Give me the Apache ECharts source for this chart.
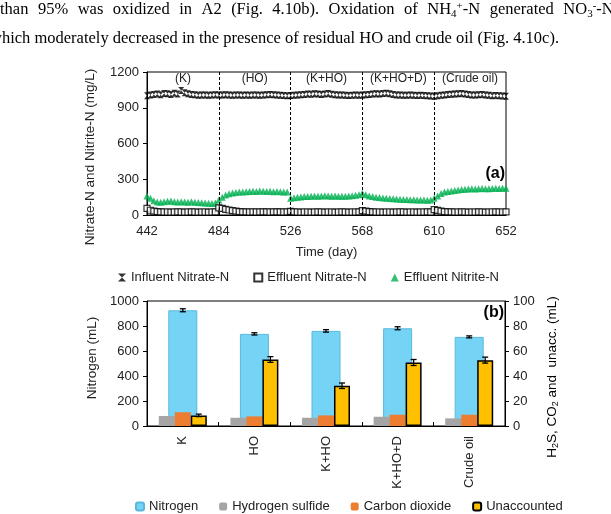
<!DOCTYPE html>
<html>
<head>
<meta charset="utf-8">
<script src="https://cdn.jsdelivr.net/npm/echarts@6/dist/echarts.min.js"></script>
<style>
html, body { margin: 0; padding: 0; background: #fff; }
#main { width: 611px; height: 514px; }
</style>
</head>
<body>
<div id="main"></div>
<script>
// (a) time series, sampled every 2 days
var days = [442, 444, 446, 448, 450, 452, 454, 456, 458, 460, 462, 464, 466, 468, 470, 472, 474, 476, 478, 480, 482,
    484, 486, 488, 490, 492, 494, 496, 498, 500, 502, 504, 506, 508, 510, 512, 514, 516, 518, 520, 522, 524,
    526, 528, 530, 532, 534, 536, 538, 540, 542, 544, 546, 548, 550, 552, 554, 556, 558, 560, 562, 564, 566,
    568, 570, 572, 574, 576, 578, 580, 582, 584, 586, 588, 590, 592, 594, 596, 598, 600, 602, 604, 606, 608,
    610, 612, 614, 616, 618, 620, 622, 624, 626, 628, 630, 632, 634, 636, 638, 640, 642, 644, 646, 648, 650, 652];
var influentNitrate = [1000, 1008, 1012, 1015, 1010, 1020, 1018, 1012, 1022, 1015, 1045, 1025, 1018, 1012, 1010, 1005, 1008, 1006, 1004, 1008, 1010,
    1008, 1006, 1010, 1008, 1005, 1006, 1008, 1004, 1006, 1005, 1007, 1006, 1004, 1008, 1010, 1012, 1010, 1006, 1004, 1002, 1000,
    1002, 1004, 1008, 1010, 1012, 1015, 1014, 1018, 1015, 1012, 1016, 1020, 1014, 1010, 1008, 1006, 1004, 1002, 1004, 1006, 1005,
    1008, 1010, 1012, 1015, 1018, 1016, 1020, 1022, 1018, 1012, 1008, 1006, 1005, 1004, 1006, 1005, 1003, 1004, 1002, 1000, 998,
    996, 1000, 1004, 1008, 1012, 1014, 1016, 1018, 1020, 1016, 1012, 1008, 1006, 1010, 1012, 1008, 1004, 1000, 1002, 1000, 998, 996];
var effluentNitrate = [55, 40, 32, 28, 26, 25, 25, 24, 25, 26, 25, 24, 25, 26, 25, 24, 25, 25, 24, 25, 26,
    60, 55, 48, 42, 36, 32, 29, 27, 26, 25, 26, 25, 26, 27, 26, 25, 26, 27, 26, 25, 26,
    30, 26, 25, 24, 25, 25, 24, 25, 26, 25, 24, 25, 25, 24, 25, 26, 25, 24, 25, 25, 26,
    36, 32, 28, 26, 25, 25, 24, 25, 25, 24, 25, 26, 25, 24, 25, 25, 24, 25, 25, 26, 25,
    45, 38, 32, 28, 27, 26, 25, 25, 26, 25, 24, 25, 25, 26, 25, 24, 25, 25, 26, 25, 25, 26];
var effluentNitrite = [160, 140, 120, 110, 108, 112, 115, 118, 112, 110, 112, 110, 108, 112, 106, 104, 102, 100, 98, 96, 100,
    125, 150, 168, 178, 185, 188, 192, 194, 196, 198, 200, 198, 202, 200, 198, 200, 196, 198, 195, 194, 192,
    140, 145, 150, 152, 155, 156, 158, 160, 158, 160, 162, 160, 158, 160, 158, 157, 158, 160, 162, 165, 170,
    182, 170, 160, 155, 150, 146, 142, 140, 138, 136, 134, 132, 130, 130, 128, 127, 126, 126, 125, 124, 126,
    140, 160, 180, 192, 198, 202, 206, 210, 214, 216, 218, 220, 218, 220, 222, 220, 221, 222, 224, 222, 224, 225];
var dayTicks = [442, 484, 526, 568, 610, 652];
var phaseNames = ['(K)', '(HO)', '(K+HO)', '(K+HO+D)', '(Crude oil)'];
var phaseStart = [442, 484, 526, 568, 610];
var phaseEnd = [484, 526, 568, 610, 652];

// (b) gas volumes
var treatments = ['K', 'HO', 'K+HO', 'K+HO+D', 'Crude oil'];
var nitrogen = [926, 737, 761, 782, 713];
var nitrogenErr = [12, 9, 10, 12, 8];
var hydrogenSulfide = [8, 6.6, 6.6, 7.4, 6.1];
var carbonDioxide = [11, 7.7, 8.5, 9, 9];
var unaccounted = [8.5, 53.2, 32.2, 50.8, 52.7];
var unaccountedErr = [1, 2.3, 2.2, 2.4, 2.4];

var FONT = 'Liberation Sans, Arial, sans-serif';
var SERIF = 'Liberation Serif, Times New Roman, serif';
var chart = echarts.init(document.getElementById('main'), null, { renderer: 'canvas' });

function pairs(ys) {
    return days.map(function (d, i) { return [d, ys[i]]; });
}

function errorBars(offset) {
    return function (params, api) {
        var x = api.coord([api.value(0), 0])[0] + offset;
        var hi = api.coord([api.value(0), api.value(1) + api.value(2)])[1];
        var lo = api.coord([api.value(0), api.value(1) - api.value(2)])[1];
        var st = { stroke: '#000', lineWidth: 1.3 };
        return {
            type: 'group',
            children: [
                { type: 'line', shape: { x1: x, y1: hi, x2: x, y2: lo }, style: st },
                { type: 'line', shape: { x1: x - 3, y1: hi, x2: x + 3, y2: hi }, style: st },
                { type: 'line', shape: { x1: x - 3, y1: lo, x2: x + 3, y2: lo }, style: st }
            ]
        };
    };
}

function plain(v) { return String(v); }

var axisText = { color: '#222', fontSize: 13, fontFamily: FONT, formatter: plain };
var bodyRich = {
    n: { fontSize: 16.5, fontFamily: SERIF, color: '#111' },
    g: { fontSize: 16.5, fontFamily: SERIF, width: 9.5 },
    sub: { fontSize: 11, fontFamily: SERIF, color: '#111', padding: [8, 0, 0, 0] },
    sup: { fontSize: 11, fontFamily: SERIF, color: '#111', padding: [0, 0, 8, 0] }
};
var line1 = ['than', '95%', 'was', 'oxidized', 'in', 'A2', '(Fig.', '4.10b).', 'Oxidation', 'of',
    'NH}{sub|4}{sup|+}{n|-N', 'generated', 'NO}{sub|3}{sup|-}{n|-N'];

var option = {
    animation: false,
    textStyle: { fontFamily: FONT },
    grid: [
        { left: 147, top: 72, width: 359, height: 143, show: true, borderColor: '#000', borderWidth: 1 },
        { left: 147, top: 301, width: 358, height: 125, show: true, borderColor: '#000', borderWidth: 1 }
    ],
    legend: [
        {
            data: ['Influent Nitrate-N', 'Effluent Nitrate-N', 'Effluent Nitrite-N'],
            top: 266, left: 113, itemGap: 24, itemWidth: 8, itemHeight: 8,
            textStyle: { fontSize: 13, color: '#222', fontFamily: FONT }
        },
        {
            data: ['Nitrogen', 'Hydrogen sulfide', 'Carbon dioxide', 'Unaccounted'],
            top: 495, left: 130, itemGap: 21, itemWidth: 8, itemHeight: 8,
            textStyle: { fontSize: 13, color: '#222', fontFamily: FONT }
        }
    ],
    xAxis: [
        {
            type: 'value', gridIndex: 0, min: 442, max: 652,
            name: 'Time (day)', nameLocation: 'middle', nameGap: 31,
            nameTextStyle: { fontSize: 13, color: '#222', fontFamily: FONT },
            axisLine: { lineStyle: { color: '#000' } },
            axisTick: { show: false },
            axisLabel: Object.assign({}, axisText, { customValues: dayTicks, margin: 10 }),
            splitLine: { show: false }
        },
        {
            type: 'category', gridIndex: 1, data: treatments,
            axisLine: { lineStyle: { color: '#000' } },
            axisTick: { show: true, inside: true, length: 4, lineStyle: { color: '#000' } },
            axisLabel: { rotate: 90, margin: 10, color: '#222', fontSize: 13, fontFamily: FONT }
        },
        { type: 'category', gridIndex: 1, data: treatments, show: false }
    ],
    yAxis: [
        {
            type: 'value', gridIndex: 0, min: 0, max: 1200, interval: 300,
            axisLine: { show: true, lineStyle: { color: '#000' } },
            axisTick: { show: true, length: 4, lineStyle: { color: '#000' } },
            axisLabel: Object.assign({}, axisText, { margin: 8 }),
            splitLine: { show: false }
        },
        {
            type: 'value', gridIndex: 1, min: 0, max: 1000, interval: 200,
            axisLine: { show: true, lineStyle: { color: '#000' } },
            axisTick: { show: true, length: 4, lineStyle: { color: '#000' } },
            axisLabel: Object.assign({}, axisText, { margin: 8 }),
            splitLine: { show: false }
        },
        {
            type: 'value', gridIndex: 1, position: 'right', min: 0, max: 100, interval: 20,
            axisLine: { show: true, lineStyle: { color: '#000' } },
            axisTick: { show: true, length: 4, lineStyle: { color: '#000' } },
            axisLabel: Object.assign({}, axisText, { margin: 8 }),
            splitLine: { show: false }
        }
    ],
    series: [
        {
            name: 'Effluent Nitrite-N', type: 'scatter', xAxisIndex: 0, yAxisIndex: 0,
            symbol: 'triangle', symbolSize: 7,
            itemStyle: { color: '#00b050' },
            data: pairs(effluentNitrite)
        },
        {
            name: 'Effluent Nitrate-N', type: 'scatter', xAxisIndex: 0, yAxisIndex: 0,
            symbol: 'rect', symbolSize: 6,
            itemStyle: { color: '#fff', borderColor: '#000', borderWidth: 1.2 },
            data: pairs(effluentNitrate)
        },
        {
            name: 'Influent Nitrate-N', type: 'scatter', xAxisIndex: 0, yAxisIndex: 0,
            symbol: 'path://M0,0L10,0L5,5L10,10L0,10L5,5Z', symbolSize: [6, 7],
            itemStyle: { color: '#000' },
            data: pairs(influentNitrate),
            markLine: {
                silent: true, symbol: ['none', 'none'],
                label: { show: false },
                lineStyle: { type: [3, 2], color: '#000', width: 1 },
                data: phaseStart.slice(1).map(function (d) { return { xAxis: d }; })
            },
            markArea: {
                silent: true,
                itemStyle: { color: 'rgba(0,0,0,0)' },
                label: { position: 'insideTop', distance: 1, color: '#222', fontSize: 12, fontFamily: FONT },
                data: phaseNames.map(function (n, i) {
                    return [{ name: n, xAxis: phaseStart[i] }, { xAxis: phaseEnd[i] }];
                })
            }
        },
        {
            name: 'Nitrogen', type: 'bar', xAxisIndex: 1, yAxisIndex: 1, barWidth: 29, z: 1,
            itemStyle: { color: '#75d3f6', borderColor: '#5bb8dc', borderWidth: 1 },
            data: nitrogen
        },
        {
            name: 'Hydrogen sulfide', type: 'bar', xAxisIndex: 2, yAxisIndex: 2, barWidth: 16, barGap: '0%', z: 3,
            itemStyle: { color: '#a5a5a5' },
            data: hydrogenSulfide
        },
        {
            name: 'Carbon dioxide', type: 'bar', xAxisIndex: 2, yAxisIndex: 2, barWidth: 16, barGap: '0%', z: 3,
            itemStyle: { color: '#ed7d31' },
            data: carbonDioxide
        },
        {
            name: 'Unaccounted', type: 'bar', xAxisIndex: 2, yAxisIndex: 2, barWidth: 16, barGap: '0%', z: 3,
            itemStyle: { color: '#ffc000', borderColor: '#000', borderWidth: 1.5 },
            data: unaccounted
        },
        {
            type: 'custom', xAxisIndex: 1, yAxisIndex: 1, z: 10, silent: true,
            renderItem: errorBars(0),
            encode: { x: 0, y: 1 },
            data: treatments.map(function (c, i) { return [i, nitrogen[i], nitrogenErr[i]]; })
        },
        {
            type: 'custom', xAxisIndex: 2, yAxisIndex: 2, z: 10, silent: true,
            renderItem: errorBars(16),
            encode: { x: 0, y: 1 },
            data: treatments.map(function (c, i) { return [i, unaccounted[i], unaccountedErr[i]]; })
        }
    ],
    graphic: [
        {
            type: 'text', x: 0, y: 10,
            style: {
                text: line1.map(function (w) { return '{n|' + w + '}'; }).join('{g| }'),
                rich: bodyRich, verticalAlign: 'middle'
            }
        },
        {
            type: 'text', x: -10, y: 39,
            style: {
                text: '{n|which moderately decreased in the presence of residual HO and crude oil (Fig. 4.10c).}',
                rich: bodyRich, verticalAlign: 'middle'
            }
        },
        {
            type: 'text', x: 90, y: 157, rotation: Math.PI / 2,
            style: { text: 'Nitrate-N and Nitrite-N (mg/L)', align: 'center', verticalAlign: 'middle', fill: '#222', font: '13.5px ' + FONT }
        },
        {
            type: 'text', x: 92, y: 358, rotation: Math.PI / 2,
            style: { text: 'Nitrogen (mL)', align: 'center', verticalAlign: 'middle', fill: '#222', font: '13.5px ' + FONT }
        },
        {
            type: 'text', x: 552, y: 377, rotation: Math.PI / 2,
            style: {
                text: '{a|H}{s|2}{a|S, CO}{s|2}{a| and  unacc. (mL)}',
                align: 'center', verticalAlign: 'middle',
                rich: {
                    a: { fontSize: 13.5, fontFamily: FONT, color: '#222' },
                    s: { fontSize: 9, fontFamily: FONT, color: '#222', padding: [7, 0, 0, 0] }
                }
            }
        },
        {
            type: 'text', x: 505, y: 174,
            style: { text: '(a)', align: 'right', verticalAlign: 'middle', fill: '#000', font: 'bold 16px ' + FONT }
        },
        {
            type: 'text', x: 504, y: 313,
            style: { text: '(b)', align: 'right', verticalAlign: 'middle', fill: '#000', font: 'bold 16px ' + FONT }
        }
    ]
};

chart.setOption(option);
window.addEventListener('resize', function () {
    chart.resize();
});
</script>
</body>
</html>
